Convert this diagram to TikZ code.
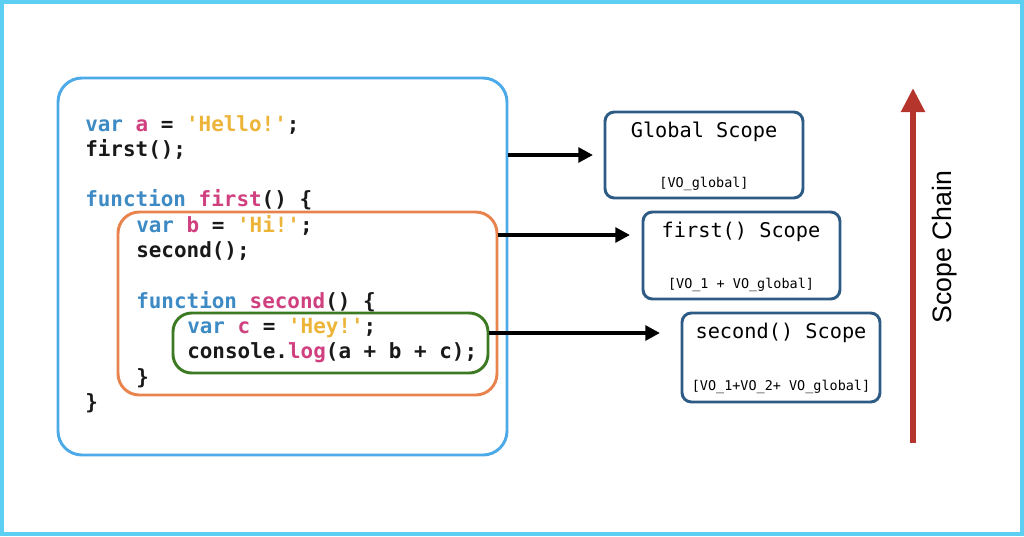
\documentclass[tikz,border=0pt]{standalone}
\usepackage{fontspec}
\setmonofont{DejaVu Sans Mono}
\newfontfamily\chainfont{Liberation Sans}
\usetikzlibrary{arrows.meta}
\usetikzlibrary{fit}
\usetikzlibrary{positioning}
\definecolor{frameblue}{HTML}{5CCFF2}
\definecolor{outerblue}{HTML}{4DAAE8}
\definecolor{firstorange}{HTML}{E8834E}
\definecolor{secondgreen}{HTML}{3B7A23}
\definecolor{scopeblue}{HTML}{2D5B86}
\definecolor{kwblue}{HTML}{3D8AC4}
\definecolor{idpink}{HTML}{D0407F}
\definecolor{stryellow}{HTML}{EDB43A}
\definecolor{chainred}{HTML}{B5342C}
\newcommand{\jskw}[1]{\textcolor{kwblue}{#1}}
\newcommand{\jsid}[1]{\textcolor{idpink}{#1}}
\newcommand{\jsstr}[1]{\textcolor{stryellow}{#1}}
\tikzset{%
  myedge/.style={-{Triangle[length=11pt, width=11pt]}, line width=3pt},
  chainedge/.style={-{Triangle[length=18pt, width=17pt]}, line width=4.5pt,
    draw=chainred},
  codebox/.style={rectangle, inner sep=0pt, line width=2.2pt},
  codeline/.style={anchor=base west, inner sep=0pt, text=black!90,
    font=\fontsize{15.7}{19}\selectfont\ttfamily\bfseries},
  scopebox/.style={rectangle, draw=scopeblue, line width=2.2pt,
    rounded corners=7pt, inner sep=0pt},
  scopetitle/.style={anchor=base, inner sep=0pt,
    font=\fontsize{15.2}{18}\selectfont\ttfamily},
  scopevars/.style={anchor=base, inner sep=0pt,
    font=\fontsize{10.1}{12}\selectfont\ttfamily}
}
\begin{document}
\begin{tikzpicture}[x=0.75pt, y=-0.75pt]
  \useasboundingbox (0,0) rectangle (1024,536);
  \draw[frameblue, line width=3pt] (2,2) rectangle (1022,534);
  % nested code blocks
  \node[codebox, draw=outerblue, rounded corners=18pt,
    fit={(58,78) (507,455)}] (outer) {};
  \node[codebox, draw=firstorange, rounded corners=16pt,
    fit={(118,212) (497,395)}] (inner) {};
  \node[codebox, draw=secondgreen, rounded corners=14pt,
    fit={(173,313) (488,373)}] (innermost) {};
  % the code
  \node[codeline] (l1) at (85,131) {\jskw{var} \jsid{a} = \jsstr{'Hello!'};};
  \node[codeline] (l2) at (85,156) {first();};
  \node[codeline] (l4) at (85,206) {\jskw{function} \jsid{first}() \{};
  \node[codeline] (l5) at (136,232) {\jskw{var} \jsid{b} = \jsstr{'Hi!'};};
  \node[codeline] (l6) at (136,257) {second();};
  \node[codeline] (l8) at (136,308) {\jskw{function} \jsid{second}() \{};
  \node[codeline] (l9) at (187,333) {\jskw{var} \jsid{c} = \jsstr{'Hey!'};};
  \node[codeline] (l10) at (187,358) {console.\jsid{log}(a + b + c);};
  \node[codeline] (l11) at (136,384) {\}};
  \node[codeline] (l12) at (85,409) {\}};
  % scopes
  \node[scopebox, fit={(605,112) (803,198)}] (gscope) {};
  \node[scopetitle] (gtitle) at (704,137) {Global Scope};
  \node[scopevars] (gvars) at (704,187) {[VO\_global]};
  \node[scopebox, fit={(643,212) (840,299)}] (fscope) {};
  \node[scopetitle] (ftitle) at (741,237) {first() Scope};
  \node[scopevars] (fvars) at (741,288) {[VO\_1 + VO\_global]};
  \node[scopebox, fit={(682,313) (880,402)}] (sscope) {};
  \node[scopetitle] (stitle) at (781,338) {second() Scope};
  \node[scopevars] (svars) at (781,390) {[VO\_1+VO\_2+ VO\_global]};
  % links
  \coordinate (ghook) at (593,155);
  \coordinate (fhook) at (630,235);
  \coordinate (shook) at (660,333);
  \draw[myedge] (outer.east |- ghook) -- (ghook);
  \draw[myedge] (inner.east |- fhook) -- (fhook);
  \draw[myedge] (innermost.east |- shook) -- (shook);
  % chain
  \coordinate (chainfoot) at (913,443);
  \coordinate (chaintop) at (913,88);
  \draw[chainedge] (chainfoot) -- (chaintop);
  \node[rotate=90, anchor=base, inner sep=0pt,
    font=\fontsize{20}{24}\selectfont\chainfont] (chainlabel) at (951,247)
    {Scope Chain};
\end{tikzpicture}
\end{document}
